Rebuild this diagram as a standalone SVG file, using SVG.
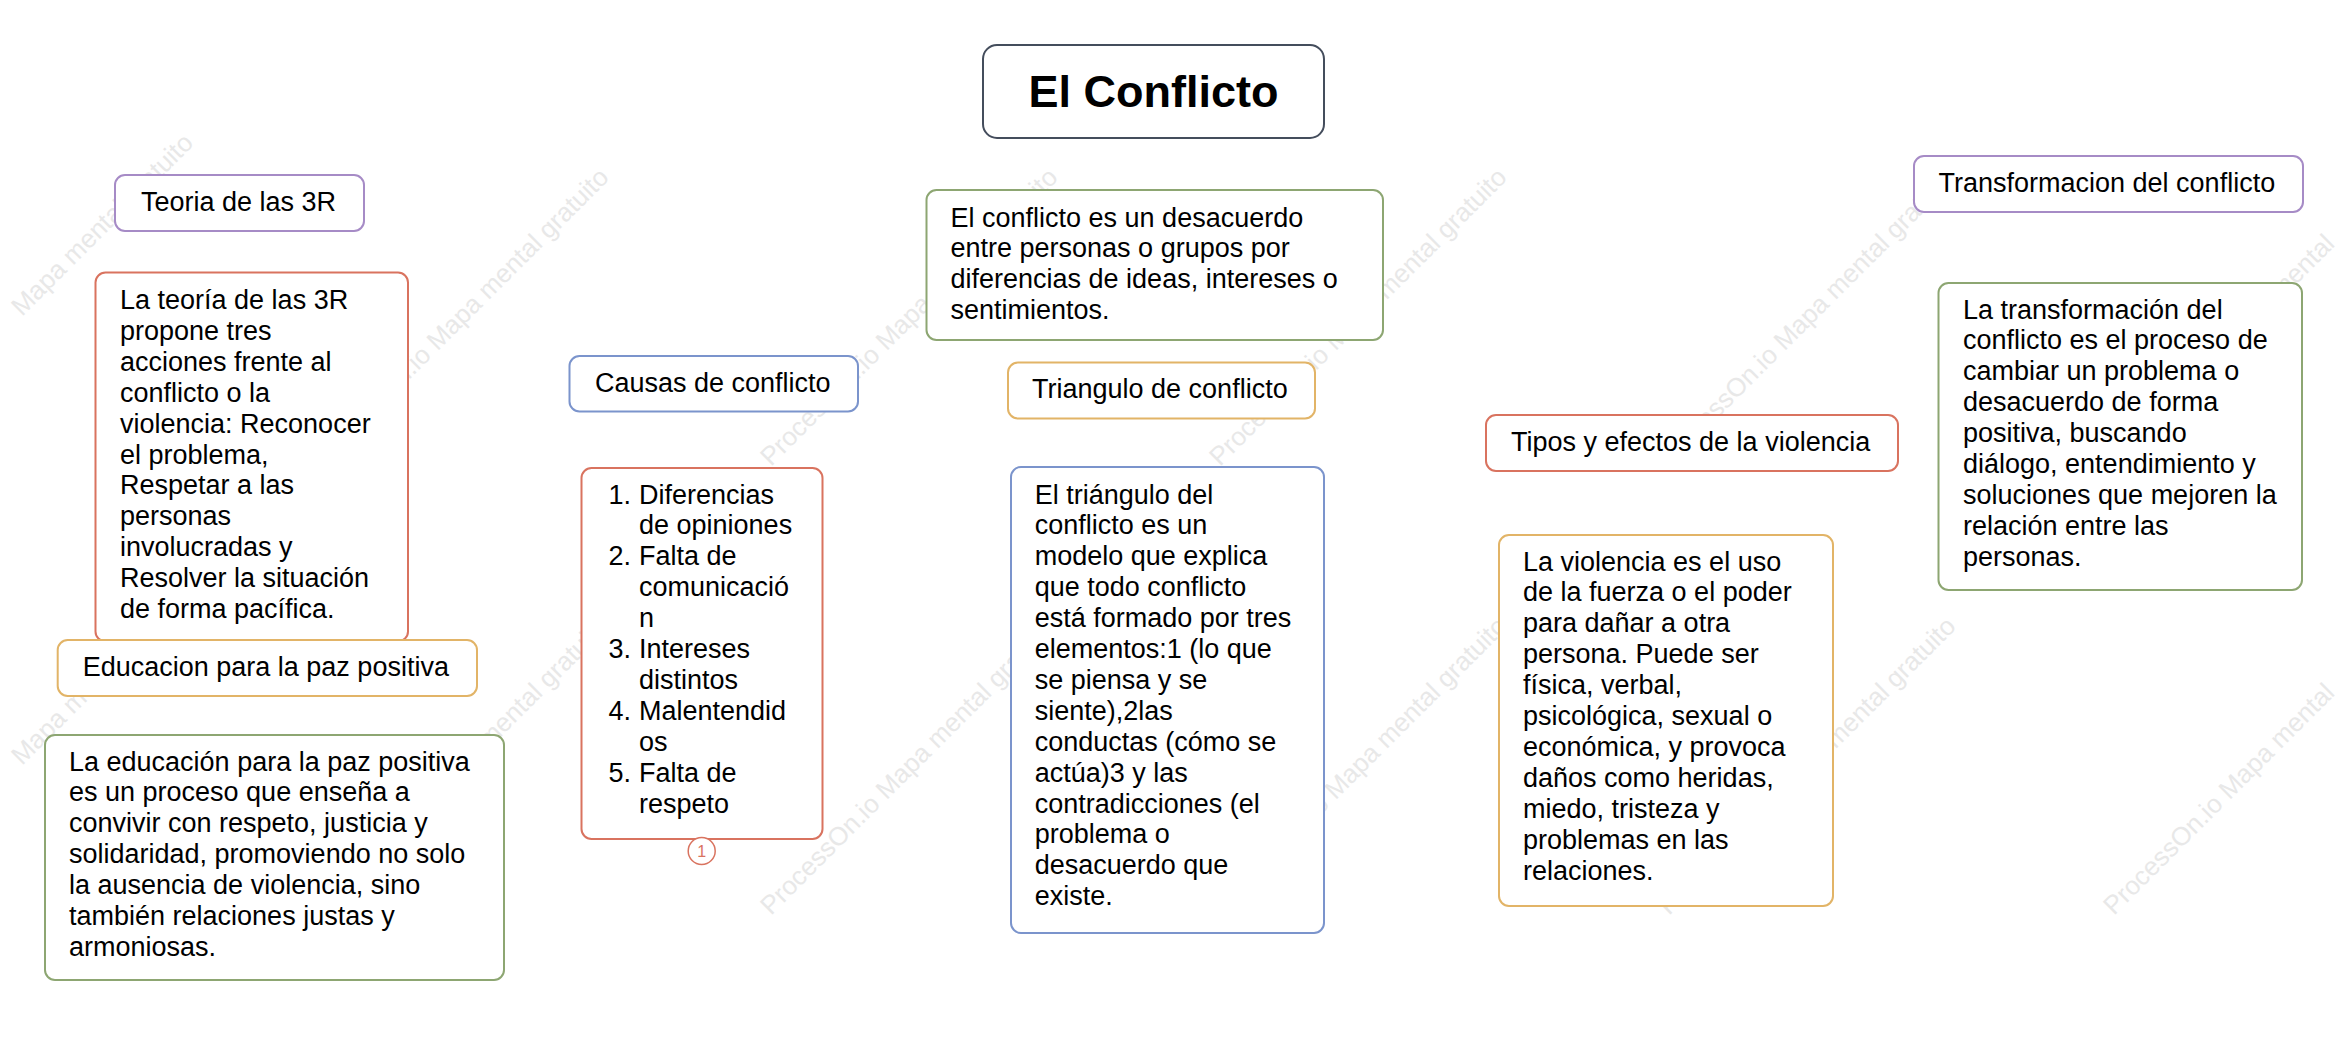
<svg xmlns="http://www.w3.org/2000/svg" width="2349" height="1040" viewBox="0 0 2349 1040">
<defs>
<style>
text{font-family:"Liberation Sans",Arial,Helvetica,sans-serif;font-size:27px;fill:#000}
.box{fill:#fff;stroke-width:2}
.purple{stroke:#A68BC6}
.red{stroke:#D9735F}
.orange{stroke:#E2B467}
.blue{stroke:#7B94CC}
.green{stroke:#8DA672}
.dark{stroke:#444D5C}
.wm{font-size:26px;fill:#e8e8e8}
.root{font-size:45px;font-weight:bold}
.badge{fill:#fff;stroke:#D9735F;stroke-width:1.5}
.badgetxt{font-size:16px;fill:#D9735F}
</style>
</defs>
<rect width="2349" height="1040" fill="#fff"/>
<g id="watermark">
<text class="wm" transform="translate(22,317) rotate(-45)">Mapa mental gratuito</text>
<text class="wm" transform="translate(322,467) rotate(-45)">ProcessOn.io Mapa mental gratuito</text>
<text class="wm" transform="translate(771,467) rotate(-45)">ProcessOn.io Mapa mental gratuito</text>
<text class="wm" transform="translate(1220,467) rotate(-45)">ProcessOn.io Mapa mental gratuito</text>
<text class="wm" transform="translate(1669,467) rotate(-45)">ProcessOn.io Mapa mental gratuito</text>
<text class="wm" transform="translate(2114,467) rotate(-45)">ProcessOn.io Mapa mental</text>
<text class="wm" transform="translate(22,766) rotate(-45)">Mapa mental gratuito</text>
<text class="wm" transform="translate(322,916) rotate(-45)">ProcessOn.io Mapa mental gratuito</text>
<text class="wm" transform="translate(771,916) rotate(-45)">ProcessOn.io Mapa mental gratuito</text>
<text class="wm" transform="translate(1220,916) rotate(-45)">ProcessOn.io Mapa mental gratuito</text>
<text class="wm" transform="translate(1669,916) rotate(-45)">ProcessOn.io Mapa mental gratuito</text>
<text class="wm" transform="translate(2114,916) rotate(-45)">ProcessOn.io Mapa mental</text>
</g>
<g id="connectors"></g>

<g id="root">
<rect class="box dark" x="983" y="45" width="341" height="93" rx="14"/>
<text class="root" x="1153.5" y="107" text-anchor="middle">El Conflicto</text>
</g>

<g id="definicion">
<rect class="box green" x="926.5" y="190" width="456.5" height="150" rx="10"/>
<text x="950.5" y="226.5">El conflicto es un desacuerdo</text>
<text x="950.5" y="257.4">entre personas o grupos por</text>
<text x="950.5" y="288.3">diferencias de ideas, intereses o</text>
<text x="950.5" y="319.2">sentimientos.</text>
</g>

<g id="teoria3r">
<rect class="box purple" x="115" y="175" width="249" height="56" rx="10"/>
<text x="141" y="211">Teoria de las 3R</text>
</g>

<g id="teoria3r-texto">
<rect class="box red" x="95.5" y="272.5" width="312.5" height="369" rx="10"/>
<text x="120" y="309">La teoría de las 3R</text>
<text x="120" y="339.9">propone tres</text>
<text x="120" y="370.8">acciones frente al</text>
<text x="120" y="401.7">conflicto o la</text>
<text x="120" y="432.6">violencia: Reconocer</text>
<text x="120" y="463.5">el problema,</text>
<text x="120" y="494.4">Respetar a las</text>
<text x="120" y="525.3">personas</text>
<text x="120" y="556.2">involucradas y</text>
<text x="120" y="587.1">Resolver la situación</text>
<text x="120" y="618">de forma pacífica.</text>
</g>

<g id="educacion">
<rect class="box orange" x="57.7" y="640" width="419.3" height="56" rx="10"/>
<text x="82.7" y="675.5">Educacion para la paz positiva</text>
</g>

<g id="educacion-texto">
<rect class="box green" x="45" y="735" width="459" height="245" rx="10"/>
<text x="69" y="770.5">La educación para la paz positiva</text>
<text x="69" y="801.4">es un proceso que enseña a</text>
<text x="69" y="832.3">convivir con respeto, justicia y</text>
<text x="69" y="863.2">solidaridad, promoviendo no solo</text>
<text x="69" y="894.1">la ausencia de violencia, sino</text>
<text x="69" y="925">también relaciones justas y</text>
<text x="69" y="955.9">armoniosas.</text>
</g>

<g id="causas">
<rect class="box blue" x="569.5" y="356" width="288.5" height="55.5" rx="10"/>
<text x="595" y="391.5">Causas de conflicto</text>
</g>

<g id="causas-lista">
<rect class="box red" x="581.5" y="468" width="241" height="371" rx="10"/>
<text x="608.5" y="503.5">1.</text><text x="639" y="503.5">Diferencias</text>
<text x="639" y="534.4">de opiniones</text>
<text x="608.5" y="565.3">2.</text><text x="639" y="565.3">Falta de</text>
<text x="639" y="596.2">comunicació</text>
<text x="639" y="627.1">n</text>
<text x="608.5" y="658">3.</text><text x="639" y="658">Intereses</text>
<text x="639" y="688.9">distintos</text>
<text x="608.5" y="719.8">4.</text><text x="639" y="719.8">Malentendid</text>
<text x="639" y="750.7">os</text>
<text x="608.5" y="781.6">5.</text><text x="639" y="781.6">Falta de</text>
<text x="639" y="812.5">respeto</text>
<circle class="badge" cx="701.7" cy="851" r="13.5"/>
<text class="badgetxt" x="701.7" y="856.5" text-anchor="middle">1</text>
</g>

<g id="triangulo">
<rect class="box orange" x="1008" y="362.5" width="307" height="56" rx="10"/>
<text x="1032" y="398">Triangulo de conflicto</text>
</g>

<g id="triangulo-texto">
<rect class="box blue" x="1011" y="467" width="313" height="466" rx="10"/>
<text x="1034.7" y="503.5">El triángulo del</text>
<text x="1034.7" y="534.4">conflicto es un</text>
<text x="1034.7" y="565.3">modelo que explica</text>
<text x="1034.7" y="596.2">que todo conflicto</text>
<text x="1034.7" y="627.1">está formado por tres</text>
<text x="1034.7" y="658">elementos:1 (lo que</text>
<text x="1034.7" y="688.9">se piensa y se</text>
<text x="1034.7" y="719.8">siente),2las</text>
<text x="1034.7" y="750.7">conductas (cómo se</text>
<text x="1034.7" y="781.6">actúa)3 y las</text>
<text x="1034.7" y="812.5">contradicciones (el</text>
<text x="1034.7" y="843.4">problema o</text>
<text x="1034.7" y="874.3">desacuerdo que</text>
<text x="1034.7" y="905.2">existe.</text>
</g>

<g id="violencia">
<rect class="box red" x="1486" y="415" width="412" height="56" rx="10"/>
<text x="1511" y="450.5">Tipos y efectos de la violencia</text>
</g>

<g id="violencia-texto">
<rect class="box orange" x="1499" y="535" width="334" height="371" rx="10"/>
<text x="1523" y="570.5">La violencia es el uso</text>
<text x="1523" y="601.4">de la fuerza o el poder</text>
<text x="1523" y="632.3">para dañar a otra</text>
<text x="1523" y="663.2">persona. Puede ser</text>
<text x="1523" y="694.1">física, verbal,</text>
<text x="1523" y="725">psicológica, sexual o</text>
<text x="1523" y="755.9">económica, y provoca</text>
<text x="1523" y="786.8">daños como heridas,</text>
<text x="1523" y="817.7">miedo, tristeza y</text>
<text x="1523" y="848.6">problemas en las</text>
<text x="1523" y="879.5">relaciones.</text>
</g>

<g id="transformacion">
<rect class="box purple" x="1914" y="156" width="389" height="56" rx="10"/>
<text x="1938.5" y="191.8">Transformacion del conflicto</text>
</g>

<g id="transformacion-texto">
<rect class="box green" x="1938.5" y="283" width="363.5" height="307" rx="10"/>
<text x="1963" y="318.5">La transformación del</text>
<text x="1963" y="349.4">conflicto es el proceso de</text>
<text x="1963" y="380.3">cambiar un problema o</text>
<text x="1963" y="411.2">desacuerdo de forma</text>
<text x="1963" y="442.1">positiva, buscando</text>
<text x="1963" y="473">diálogo, entendimiento y</text>
<text x="1963" y="503.9">soluciones que mejoren la</text>
<text x="1963" y="534.8">relación entre las</text>
<text x="1963" y="565.7">personas.</text>
</g>
</svg>
